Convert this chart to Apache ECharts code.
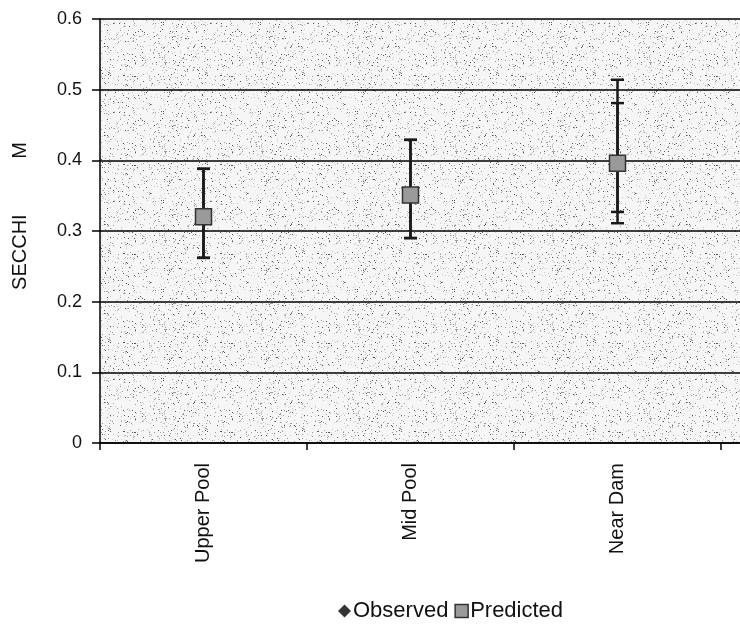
<!DOCTYPE html>
<html><head><meta charset="utf-8">
<script src="https://cdn.jsdelivr.net/npm/echarts@6/dist/echarts.min.js"></script>
<style>html,body{margin:0;padding:0;background:#fff}#c{width:740px;height:626px}</style>
</head><body><div id="c"></div>
<script>
// ---- data ----
const categories = ['Upper Pool', 'Mid Pool', 'Near Dam', ''];
const yTicks = [0, 0.1, 0.2, 0.3, 0.4, 0.5, 0.6];
const observed = [0.32, 0.351, 0.396, null];
const observedLow = [0.262, 0.290, 0.327, null];
const observedHigh = [0.388, 0.429, 0.481, null];
const predicted = [0.32, 0.351, 0.396, null];
const predictedLow = [0.262, 0.290, 0.311, null];
const predictedHigh = [0.388, 0.429, 0.514, null];

// ---- stipple background pattern (decorative) ----
function makePattern() {
  const c = document.createElement('canvas');
  c.width = 97; c.height = 89;
  const g = c.getContext('2d');
  g.fillStyle = '#f6f6f6'; g.fillRect(0, 0, c.width, c.height);
  let s = 12345;
  const rnd = () => { s = (s * 1103515245 + 12345) & 0x7fffffff; return s / 0x7fffffff; };
  for (let i = 0; i < 720; i++) {
    const x = Math.floor(rnd() * c.width), y = Math.floor(rnd() * c.height);
    const v = rnd();
    g.fillStyle = v < 0.16 ? '#555' : (v < 0.55 ? '#9a9a9a' : '#c8c8c8');
    g.fillRect(x, y, 1, 1);
  }
  return c;
}

const font = 'Liberation Sans, Arial, sans-serif';
const chart = echarts.init(document.getElementById('c'), null, {renderer: 'canvas'});

function errRender(capW, lw) {
  return function (params, api) {
    const i = api.value(0);
    const lo = api.value(1), hi = api.value(2);
    if (lo == null || hi == null || isNaN(lo) || isNaN(hi)) return;
    const p1 = api.coord([i, lo]), p2 = api.coord([i, hi]);
    const st = {stroke: '#1a1a1a', lineWidth: lw};
    return {type: 'group', children: [
      {type: 'line', shape: {x1: p1[0], y1: p1[1], x2: p2[0], y2: p2[1]}, style: st},
      {type: 'line', shape: {x1: p1[0] - capW / 2, y1: p1[1], x2: p1[0] + capW / 2, y2: p1[1]}, style: st},
      {type: 'line', shape: {x1: p2[0] - capW / 2, y1: p2[1], x2: p2[0] + capW / 2, y2: p2[1]}, style: st}
    ]};
  };
}

const option = {
  animation: false,
  backgroundColor: '#fff',
  grid: {left: 100, top: 19, width: 828, height: 424, show: true, outerBoundsMode: 'none',
    backgroundColor: {image: makePattern(), repeat: 'repeat'}, borderWidth: 0},
  legend: {
    left: 333, top: 595, itemWidth: 13, itemHeight: 13, itemGap: 6,
    textStyle: {fontFamily: font, fontSize: 22, color: '#111', padding: [0, 0, 0, -3]},
    data: [
      {name: 'Observed', icon: 'diamond', itemStyle: {color: '#000'}},
      {name: 'Predicted', icon: 'rect', itemStyle: {color: '#9a9a9a', borderColor: '#333', borderWidth: 1.5}}
    ]
  },
  xAxis: {
    type: 'category', data: categories, boundaryGap: true,
    axisLine: {lineStyle: {color: '#000', width: 1.5}},
    axisTick: {show: true, length: 7, lineStyle: {color: '#000', width: 1.5}},
    axisLabel: {rotate: 90, margin: 20, fontFamily: font, fontSize: 20, color: '#111'},
    splitLine: {show: false}
  },
  yAxis: {
    type: 'value', min: 0, max: 0.6, interval: 0.1,
    name: 'SECCHI          M', nameLocation: 'middle', nameGap: 70,
    nameTextStyle: {fontFamily: font, fontSize: 20, color: '#111', padding: [0, 0, 0, 30]},
    axisLine: {show: true, lineStyle: {color: '#000', width: 1.5}},
    axisTick: {show: true, length: 8, lineStyle: {color: '#000', width: 1.5}},
    axisLabel: {margin: 18, fontFamily: font, fontSize: 18, color: '#111',
      formatter: v => yTicks.includes(+v.toFixed(1)) ? String(+v.toFixed(1)) : ''},
    splitLine: {show: true, lineStyle: {color: '#000', width: 1.5}}
  },
  series: [
    {name: 'Observed err', type: 'custom', renderItem: errRender(13, 2.5),
      data: categories.map((c, i) => [i, observedLow[i], observedHigh[i]]), z: 3, silent: true},
    {name: 'Predicted err', type: 'custom', renderItem: errRender(13, 2.5),
      data: categories.map((c, i) => [i, predictedLow[i], predictedHigh[i]]), z: 3, silent: true},
    {name: 'Observed', type: 'scatter', symbol: 'diamond', symbolSize: 12,
      data: observed, itemStyle: {color: '#000'}, z: 4},
    {name: 'Predicted', type: 'scatter', symbol: 'rect', symbolSize: 16,
      data: predicted, itemStyle: {color: '#9a9a9a', borderColor: '#333', borderWidth: 1.5, opacity: 1}, z: 5}
  ]
};
chart.setOption(option);
</script></body></html>
